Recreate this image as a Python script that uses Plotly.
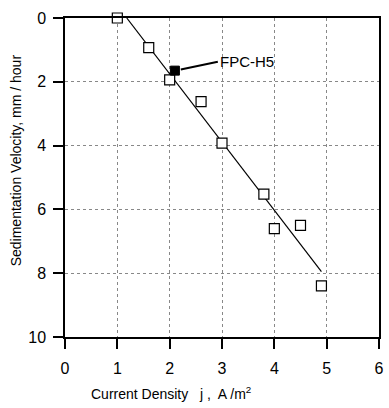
import plotly.graph_objects as go

# Data
current_density = [1.0, 1.6, 2.0, 2.6, 3.0, 3.8, 4.0, 4.5, 4.9]
sed_velocity = [0.0, 0.93, 1.94, 2.62, 3.92, 5.52, 6.6, 6.5, 8.4]
fpc_x = [2.1]
fpc_y = [1.65]
fit_x = [1.18, 4.9]
fit_y = [0.0, 7.95]
x_ticks = [0, 1, 2, 3, 4, 5, 6]
y_ticks = [0, 2, 4, 6, 8, 10]

FONT = "Liberation Sans, Arial, sans-serif"

fig = go.Figure()
fig.add_trace(go.Scatter(x=fit_x, y=fit_y, mode="lines",
                         line=dict(color="black", width=1.2), showlegend=False))
fig.add_trace(go.Scatter(x=current_density, y=sed_velocity, mode="markers",
                         cliponaxis=False,
                         marker=dict(symbol="square", size=10, color="white",
                                     line=dict(color="black", width=1.2)),
                         showlegend=False))
fig.add_trace(go.Scatter(x=fpc_x, y=fpc_y, mode="markers",
                         marker=dict(symbol="square", size=9, color="black",
                                     line=dict(color="black", width=1)),
                         showlegend=False))

fig.add_annotation(x=fpc_x[0], y=fpc_y[0], xref="x", yref="y",
                   text="FPC-H5", showarrow=True, ax=2.92, ay=1.37,
                   axref="x", ayref="y", xanchor="left", yanchor="middle",
                   arrowhead=0, arrowwidth=2, arrowcolor="black",
                   standoff=6,
                   font=dict(family=FONT, size=15, color="black"))

fig.add_annotation(x=(173 - 65) / 319, y=-0.175, xref="paper", yref="paper",
                   text="Current Density   j ,  A /m<sup>2</sup>", showarrow=False,
                   xanchor="center", yanchor="middle",
                   font=dict(family=FONT, size=14, color="black"))
fig.add_annotation(x=-0.155, y=1 - (160 - 18) / 319, xref="paper", yref="paper",
                   text="Sedimentation Velocity, mm / hour", showarrow=False,
                   textangle=-90, xanchor="center", yanchor="middle",
                   font=dict(family=FONT, size=14, color="black"))

fig.update_xaxes(range=[0, 6], tickvals=x_ticks, ticks="outside", ticklen=10,
                 tickcolor="black", tickwidth=1.5, ticklabelstandoff=6,
                 showgrid=True, gridcolor="#888", griddash="dot", gridwidth=1,
                 showline=True, linecolor="black", linewidth=1.5, mirror=True,
                 zeroline=False,
                 tickfont=dict(family=FONT, size=16, color="black"))
fig.update_yaxes(range=[10, 0], tickvals=y_ticks, ticks="outside", ticklen=10,
                 tickcolor="black", tickwidth=1.5, ticklabelstandoff=4,
                 showgrid=True, gridcolor="#888", griddash="dot", gridwidth=1,
                 showline=True, linecolor="black", linewidth=1.5, mirror=True,
                 zeroline=False,
                 tickfont=dict(family=FONT, size=16, color="black"))

fig.update_layout(width=389, height=408,
                  margin=dict(l=65, r=5, t=18, b=71),
                  plot_bgcolor="white", paper_bgcolor="white",
                  font=dict(family=FONT, color="black"))

fig.write_html("out.html")
